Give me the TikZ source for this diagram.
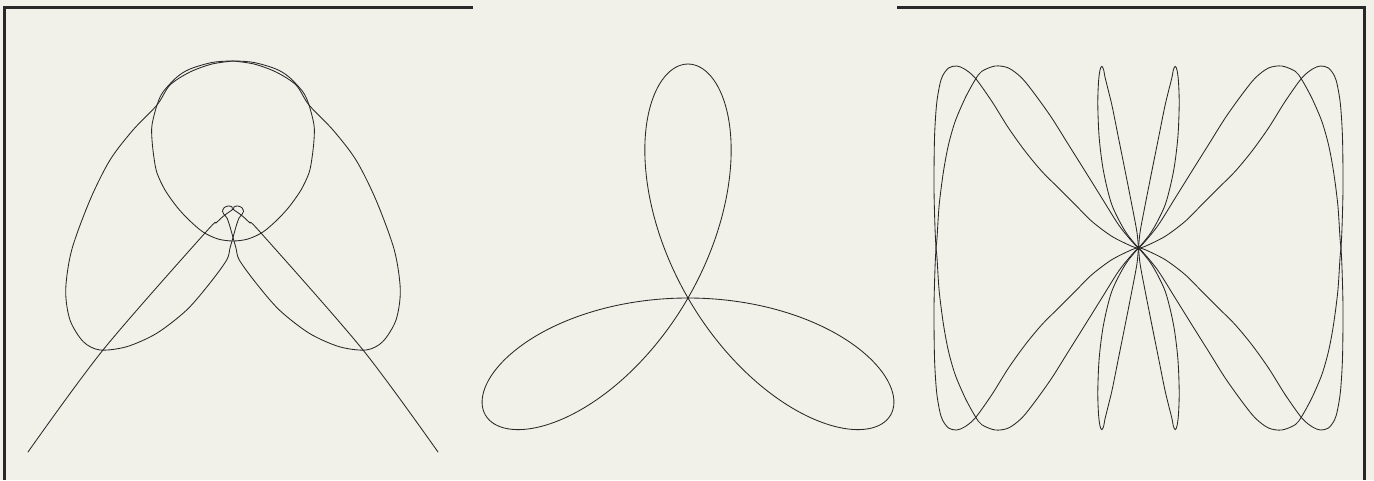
\documentclass[tikz,border=0pt]{standalone}
\usepackage{tikz}
\definecolor{paper}{RGB}{241,240,233}
\definecolor{ink}{RGB}{40,40,40}
\tikzset{
  curve/.style={ink, line width=0.85pt, line join=round, line cap=round},
  frame/.style={ink, line width=3pt},
}

\begin{document}
\begin{tikzpicture}[x=1pt,y=-1pt]
  \fill[paper] (0,0) rectangle (1374,480);
  \useasboundingbox (0,0) rectangle (1374,480);
  \draw[frame] (4.5,480) -- (4.5,7) -- (473,7);
  \draw[frame] (897,7) -- (1364.5,7) -- (1364.5,480);

  % left: egg and the two-tailed loop curve
  \coordinate (L) at (233,0);
  \begin{scope}[shift={(L)}]
    \draw[curve] plot[smooth cycle] coordinates {
      (0,61) (-21,62.5) (-43,69) (-56,77) (-70,92) (-76,105) (-81,125)
      (-81,140) (-79,158) (-76,173) (-68,190) (-56,207) (-44,220) (-30,232)
      (-15,239) (0,241) (15,239) (30,232) (44,220) (56,207) (68,190) (76,173)
      (79,158) (81,140) (81,125) (76,105) (70,92) (56,77) (43,69) (21,62.5)};
    \foreach \s in {1,-1} {
      \begin{scope}[xscale=\s]
        \draw[curve] plot[smooth] coordinates {
          (-205,452) (-130,350) (-28,233) (-17,223) (-10,216.5) (-4,212)
          (-0.5,209.5) (-1,206.8) (-5,206) (-9,207.8) (-10.5,211.5)
          (-9,214.5) (-6,218) (-3.5,225) (-1.5,232) (0.3,238.5) (3,248)
          (6.3,260) (23,283) (46.3,310) (76.3,333.3) (106.3,346.7) (133,350)
          (149.7,341.7) (163,320) (167.3,290) (161.3,250) (143,200) (123,160)
          (100,130) (76,105) (63,85) (43,72) (21,64) (0,61)};
      \end{scope}
    }
  \end{scope}

  % middle: three-leaved rose
  \coordinate (M) at (688,298);
  \begin{scope}[shift={(M)}, yscale=-1]
    \draw[curve] plot[domain=0:180, samples=241, smooth] (\x:{-234*sin(3*\x)});
  \end{scope}

  % right: loops through one centre
  \coordinate (R) at (1138.5,248);
  \foreach \sx/\sy in {1/1, -1/1, 1/-1, -1/-1} {
    \begin{scope}[shift={(R)}, xscale=\sx, yscale=-\sy]
      \draw[curve] plot[smooth] coordinates {
        (0,0) (-6.7,1.7) (-26.7,11.7) (-46.7,26.7) (-63.3,43.3) (-80,60)
        (-96.7,76.7) (-113.3,96.7) (-130,120) (-146.7,146.7) (-163.3,170)
        (-174,179) (-182,182) (-190,180) (-196,172) (-199,162) (-202,143)
        (-204,110) (-204.5,60) (-203.5,20) (-202.5,0)};
      \draw[curve] plot[smooth] coordinates {
        (0,0) (-6.7,6.7) (-20,23.3) (-36.7,50) (-53.3,76.7) (-70,103.3)
        (-86.7,130) (-103.3,153.3) (-116.7,170) (-130,180) (-143.3,182)
        (-156.7,176.7) (-163.3,168.3) (-173.3,150) (-183.3,126.7)
        (-190,103.3) (-195,76.7) (-199.3,43.3) (-201.5,10) (-202.5,0)};
      \draw[curve] plot[smooth] coordinates {
        (0,0) (-13.3,16.7) (-26.7,43.3) (-35,76.7) (-39.3,110) (-40.7,143.3)
        (-40,166) (-38.5,178) (-36.7,181.7) (-34.8,178) (-33.3,170)
        (-26.7,143.3) (-20,110) (-13.3,76.7) (-6.7,43.3) (-1.7,16.7) (0,0)};
    \end{scope}
  }
\end{tikzpicture}
\end{document}
